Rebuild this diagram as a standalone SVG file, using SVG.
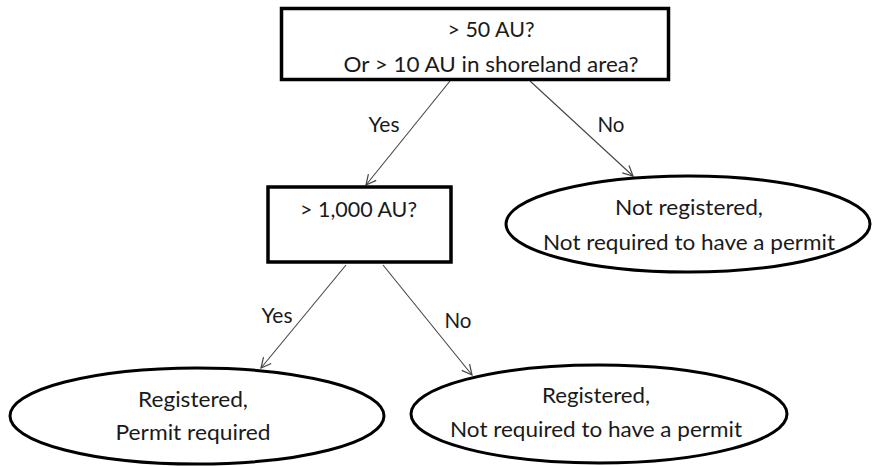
<svg xmlns="http://www.w3.org/2000/svg" width="874" height="466" viewBox="0 0 874 466">
<style>
.box{fill:#fff;stroke:#000;stroke-width:3.5}
.ell{fill:#fff;stroke:#000;stroke-width:3}
.t{font-family:Lato,"Liberation Sans",sans-serif;font-size:21.5px;fill:#1a1a1a;text-anchor:middle}
.edge{stroke:#444;stroke-width:1.1;fill:none;marker-end:url(#arr)}
</style>
<defs>
<marker id="arr" viewBox="0 0 12 12" refX="11" refY="6" markerWidth="12" markerHeight="12" markerUnits="userSpaceOnUse" orient="auto">
<path d="M1,1 L11,6 L1,11" fill="none" stroke="#444" stroke-width="1.2"/>
</marker>
</defs>
<rect width="874" height="466" fill="#fff"/>
<g id="connectors">
<line class="edge" x1="450" y1="81" x2="366" y2="185"/>
<line class="edge" x1="530" y1="81" x2="633" y2="176"/>
<line class="edge" x1="346" y1="265" x2="261" y2="368"/>
<line class="edge" x1="383" y1="265" x2="472" y2="375"/>
<text class="t" x="384" y="132" textLength="31" lengthAdjust="spacingAndGlyphs">Yes</text>
<text class="t" x="611" y="132" textLength="27" lengthAdjust="spacingAndGlyphs">No</text>
<text class="t" x="277" y="323" textLength="31" lengthAdjust="spacingAndGlyphs">Yes</text>
<text class="t" x="458" y="328" textLength="27" lengthAdjust="spacingAndGlyphs">No</text>
</g>
<g id="q1">
<rect class="box" x="281.5" y="8.5" width="387" height="71"/>
<text class="t" x="491" y="37" textLength="87" lengthAdjust="spacingAndGlyphs">&gt; 50 AU?</text>
<text class="t" x="491" y="72" textLength="295" lengthAdjust="spacingAndGlyphs">Or &gt; 10 AU in shoreland area?</text>
</g>
<g id="q2">
<rect class="box" x="268" y="187" width="183" height="75"/>
<text class="t" x="358.5" y="217" textLength="117" lengthAdjust="spacingAndGlyphs">&gt; 1,000 AU?</text>
</g>
<g id="notreg">
<ellipse class="ell" cx="688" cy="224" rx="182" ry="48"/>
<text class="t" x="689" y="215" textLength="148" lengthAdjust="spacingAndGlyphs">Not registered,</text>
<text class="t" x="689" y="250" textLength="292" lengthAdjust="spacingAndGlyphs">Not required to have a permit</text>
</g>
<g id="regpermit">
<ellipse class="ell" cx="197" cy="416" rx="187" ry="48"/>
<text class="t" x="193" y="407" textLength="110" lengthAdjust="spacingAndGlyphs">Registered,</text>
<text class="t" x="193" y="440" textLength="155" lengthAdjust="spacingAndGlyphs">Permit required</text>
</g>
<g id="regnopermit">
<ellipse class="ell" cx="599" cy="414" rx="188" ry="49"/>
<text class="t" x="596" y="403" textLength="108" lengthAdjust="spacingAndGlyphs">Registered,</text>
<text class="t" x="596" y="437" textLength="292" lengthAdjust="spacingAndGlyphs">Not required to have a permit</text>
</g>
</svg>
